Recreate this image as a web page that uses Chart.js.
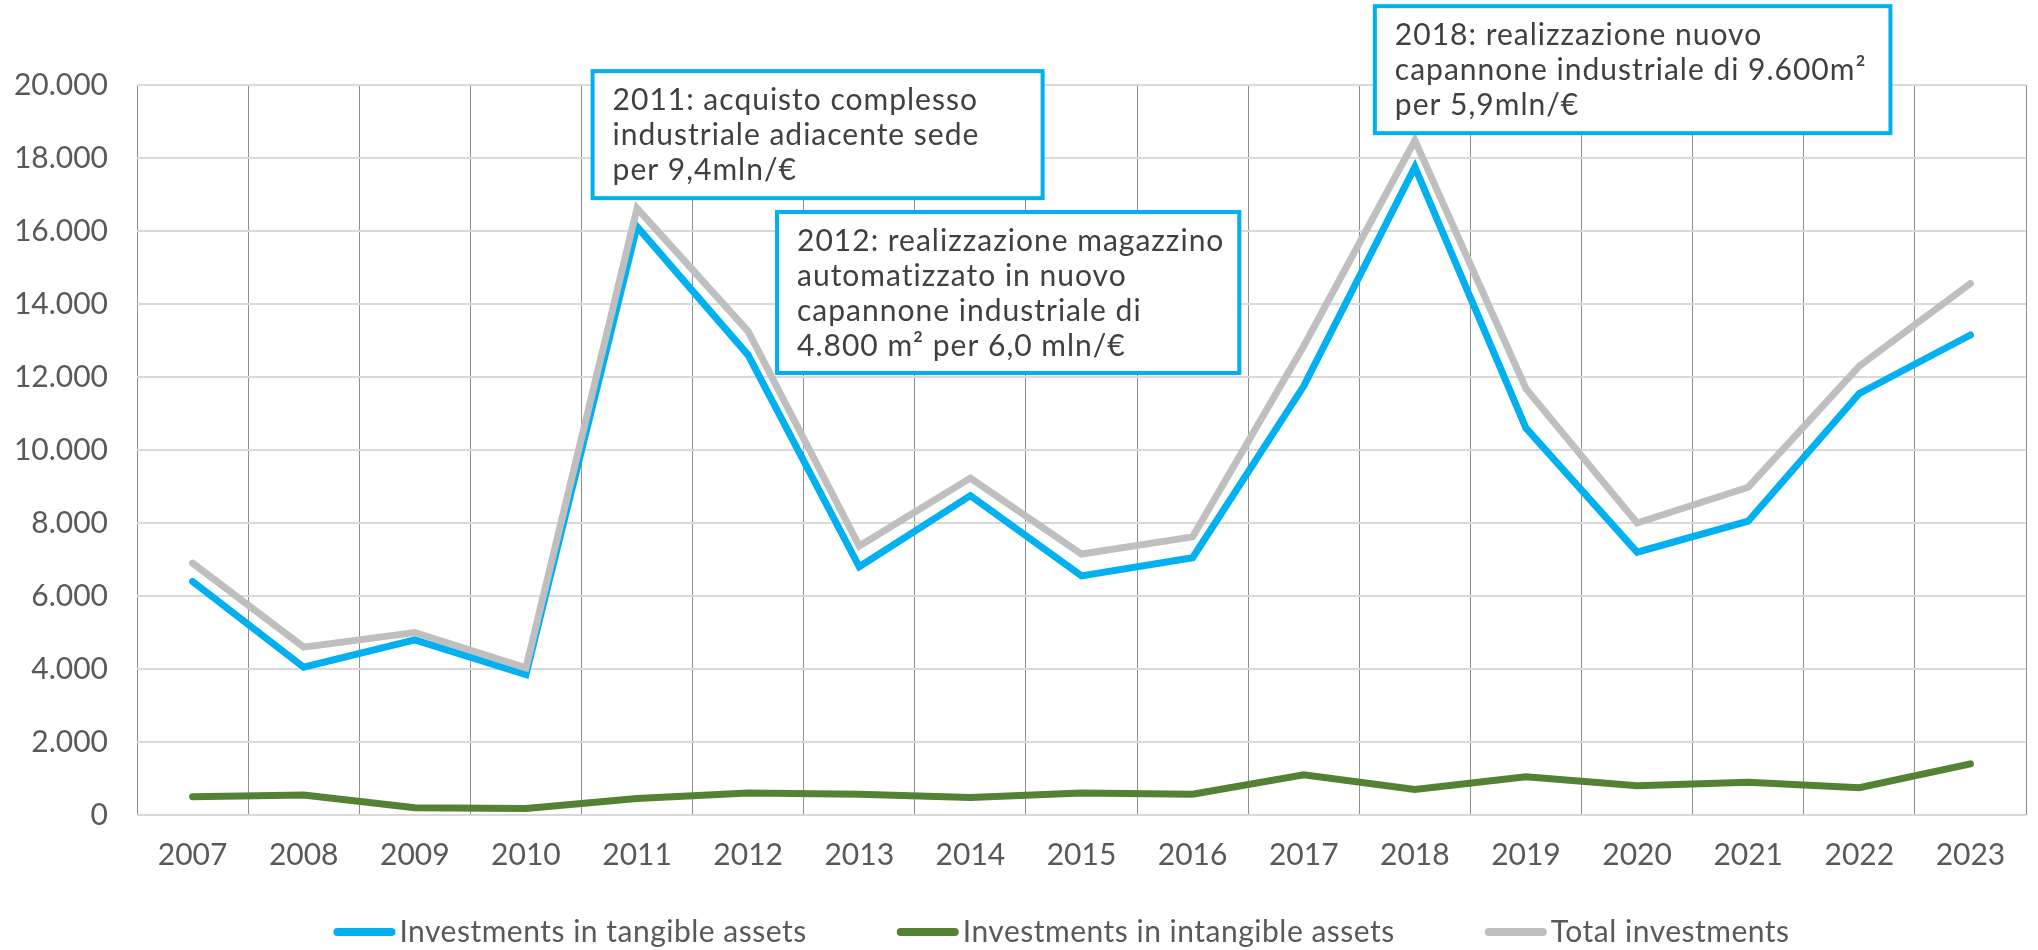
<!DOCTYPE html>
<html lang="it">
<head>
<meta charset="UTF-8">
<title>Investimenti 2007-2023</title>
<script src="https://cdn.jsdelivr.net/npm/chart.js"></script>
<style>
  body { margin: 0; background: #fff; }
  canvas { display: block; }
</style>
</head>
<body>
<canvas id="chart" width="2038" height="950"></canvas>
<script>
// dati (migliaia di euro)
const years = ['2007', '2008', '2009', '2010', '2011', '2012', '2013', '2014', '2015',
               '2016', '2017', '2018', '2019', '2020', '2021', '2022', '2023'];
const tangible   = [6400, 4050, 4800, 3850, 16120, 12600, 6800, 8750, 6550, 7050, 11750, 17750, 10600, 7200, 8050, 11550, 13150];
const intangible = [500, 550, 200, 180, 450, 600, 570, 480, 600, 570, 1100, 700, 1050, 800, 900, 750, 1400];
const total      = [6900, 4600, 5000, 4030, 16620, 13250, 7370, 9230, 7150, 7620, 12850, 18480, 11680, 8000, 8980, 12300, 14560];
const seriesNames = ['Investments in tangible assets', 'Investments in intangible assets', 'Total investments'];
const yMax = 20000;
const yStep = 2000;

const FONT = 'Lato, "Open Sans", sans-serif';
const TEXT_COLOR = '#595959';
const BLUE = '#00B0F0';

// note: box in unita' dei dati (x = indice categoria, y = valore)
const notes = [
  { x0: 3.60, x1: 7.65, yTop: 20380, yBottom: 16900,
    lines: ['2011: acquisto complesso', 'industriale adiacente sede', 'per 9,4mln/€'] },
  { x0: 5.26, x1: 9.42, yTop: 16520, yBottom: 12110,
    lines: ['2012: realizzazione magazzino', 'automatizzato in nuovo', 'capannone industriale di', '4.800 m² per 6,0 mln/€'] },
  { x0: 10.64, x1: 15.28, yTop: 22160, yBottom: 18680,
    lines: ['2018: realizzazione nuovo', 'capannone industriale di 9.600m²', 'per 5,9mln/€'] }
];

const notesPlugin = {
  id: 'notes',
  afterDatasetsDraw(chart) {
    const { ctx, scales: { x, y } } = chart;
    ctx.save();
    notes.forEach(n => {
      const left = x.getPixelForValue(n.x0);
      const right = x.getPixelForValue(n.x1);
      const top = y.getPixelForValue(n.yTop);
      const bottom = y.getPixelForValue(n.yBottom);
      ctx.fillStyle = '#fff';
      ctx.fillRect(left, top, right - left, bottom - top);
      ctx.strokeStyle = BLUE;
      ctx.lineWidth = 4;
      ctx.strokeRect(left, top, right - left, bottom - top);
      ctx.fillStyle = '#404040';
      ctx.font = '30px ' + FONT;
      ctx.letterSpacing = '1px';
      ctx.textBaseline = 'middle';
      ctx.textAlign = 'left';
      n.lines.forEach((t, i) => ctx.fillText(t, left + 20, top + 29 + i * 35));
    });
    ctx.restore();
  }
};

// legenda disegnata a mano per avere le spaziature dell'originale
const legendPlugin = {
  id: 'bottomLegend',
  afterDraw(chart) {
    const { ctx, chartArea } = chart;
    const lineW = 62, gapText = 4, gapItem = 90, yMid = 932;
    ctx.save();
    ctx.font = '30px ' + FONT;
    ctx.letterSpacing = '0.5px';
    const items = chart.data.datasets.map(ds => ({
      label: ds.label, color: ds.borderColor, w: lineW + gapText + ctx.measureText(ds.label).width
    }));
    const totalW = items.reduce((s, it) => s + it.w, 0) + gapItem * (items.length - 1);
    let xPos = (chartArea.left + chartArea.right) / 2 - 20 - totalW / 2;
    items.forEach(it => {
      ctx.strokeStyle = it.color;
      ctx.lineWidth = 8;
      ctx.lineCap = 'round';
      ctx.beginPath();
      ctx.moveTo(xPos + 4, yMid);
      ctx.lineTo(xPos + lineW - 4, yMid);
      ctx.stroke();
      ctx.fillStyle = TEXT_COLOR;
      ctx.textBaseline = 'middle';
      ctx.fillText(it.label, xPos + lineW + gapText, yMid);
      xPos += it.w + gapItem;
    });
    ctx.restore();
  }
};

const lineStyle = { borderWidth: 7, pointRadius: 0, tension: 0, borderCapStyle: 'round', borderJoinStyle: 'miter', fill: false };

new Chart(document.getElementById('chart'), {
  type: 'line',
  data: {
    labels: years,
    datasets: [
      { label: seriesNames[0], data: tangible, borderColor: BLUE, order: 2, ...lineStyle },
      { label: seriesNames[1], data: intangible, borderColor: '#548235', order: 1, ...lineStyle },
      { label: seriesNames[2], data: total, borderColor: '#BFBFBF', order: 0, ...lineStyle }
    ]
  },
  options: {
    responsive: false,
    devicePixelRatio: 1,
    animation: false,
    layout: { padding: { top: 85, right: 12, bottom: 55, left: 0 } },
    plugins: { legend: { display: false }, tooltip: { enabled: false } },
    scales: {
      x: {
        offset: true,
        grid: { offset: true, color: '#8f8f8f', lineWidth: 1, drawTicks: false },
        border: { display: false },
        ticks: { color: TEXT_COLOR, font: { family: FONT, size: 30 }, padding: 22, maxRotation: 0, autoSkip: false }
      },
      y: {
        min: 0, max: yMax,
        grid: { color: '#d9d9d9', lineWidth: 2, drawTicks: false },
        border: { display: false },
        ticks: {
          stepSize: yStep, padding: 29, color: TEXT_COLOR, font: { family: FONT, size: 30 },
          callback: v => String(v).replace(/\B(?=(\d{3})+(?!\d))/g, '.')
        },
        afterFit(scale) { scale.width = 137; }
      }
    }
  },
  plugins: [notesPlugin, legendPlugin]
});
</script>
</body>
</html>
